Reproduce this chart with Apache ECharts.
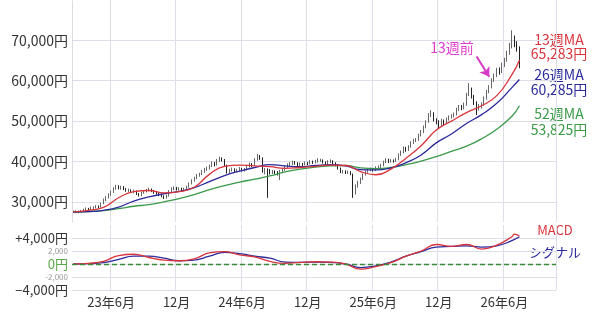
<!DOCTYPE html>
<html>
  <head>
    <meta charset="utf-8" />
    <script src="https://cdn.jsdelivr.net/npm/echarts@6/dist/echarts.min.js"></script>
    <style>
      body {
        margin: 0;
        background: #fff;
      }

      #main {
        width: 600px;
        height: 321px;
      }
    </style>
  </head>
  <body>
    <div id="main"></div>
    <script>
      // weekly candles in 千円: [open, close, low, high]
      const candles = [
        [27.4, 27.5, 27.2, 27.8], [27.5, 27.6, 27.3, 27.9], [27.6, 27.4, 27.2, 27.8], [27.4, 27.8, 27.3, 28.0],
        [27.8, 28.0, 27.6, 28.3], [28.0, 28.3, 27.9, 28.6], [28.3, 28.1, 27.8, 28.5], [28.1, 28.5, 28.0, 28.8],
        [28.5, 28.6, 28.2, 28.9], [28.6, 28.9, 28.4, 29.2], [28.9, 28.7, 28.4, 29.1], [28.7, 29.5, 28.6, 29.8],
        [29.5, 30.5, 29.4, 30.8], [30.5, 31.0, 30.2, 31.4], [31.0, 31.8, 30.8, 32.1], [31.8, 32.5, 31.5, 32.8],
        [32.5, 33.2, 32.2, 33.6], [33.2, 33.8, 33.0, 34.2], [33.8, 33.5, 33.1, 34.1], [33.5, 33.6, 33.0, 34.0],
        [33.6, 33.2, 32.9, 33.9], [33.2, 32.8, 32.5, 33.4], [32.8, 32.9, 32.4, 33.3], [32.9, 32.5, 32.2, 33.1],
        [32.5, 32.6, 32.1, 33.0], [32.6, 32.0, 31.7, 32.8], [32.0, 31.6, 31.3, 32.2], [31.6, 32.2, 31.4, 32.5],
        [32.2, 32.6, 32.0, 32.9], [32.6, 32.9, 32.3, 33.2], [32.9, 33.1, 32.6, 33.5], [33.1, 32.7, 32.4, 33.3],
        [32.7, 32.3, 32.0, 32.9], [32.3, 32.1, 31.8, 32.6], [32.1, 31.7, 31.4, 32.3], [31.7, 31.4, 31.1, 32.0],
        [31.4, 31.0, 30.7, 31.6], [31.0, 31.5, 30.8, 31.8], [31.5, 32.6, 31.3, 32.9], [32.6, 33.2, 32.3, 33.6],
        [33.2, 33.4, 32.9, 33.8], [33.4, 33.1, 32.8, 33.7], [33.1, 33.3, 32.8, 33.6], [33.3, 33.0, 32.6, 33.5],
        [33.0, 33.2, 32.7, 33.5], [33.2, 33.7, 33.0, 34.0], [33.7, 34.5, 33.5, 34.8], [34.5, 35.3, 34.3, 35.6],
        [35.3, 35.8, 35.0, 36.2], [35.8, 36.5, 35.6, 36.9], [36.5, 36.8, 36.2, 37.2], [36.8, 37.5, 36.6, 37.9],
        [37.5, 38.0, 37.2, 38.4], [38.0, 38.3, 37.7, 38.7], [38.3, 38.8, 38.0, 39.2], [38.8, 39.6, 38.6, 40.0],
        [39.6, 39.2, 38.8, 39.9], [39.2, 40.2, 39.0, 40.6], [40.2, 40.7, 39.9, 41.2], [40.7, 40.4, 40.0, 41.0],
        [40.4, 39.0, 38.7, 40.6], [39.0, 37.4, 37.0, 39.2], [37.4, 37.8, 37.0, 38.2], [37.8, 38.1, 37.5, 38.5],
        [38.1, 37.6, 37.3, 38.3], [37.6, 37.9, 37.3, 38.2], [37.9, 38.2, 37.6, 38.6], [38.2, 37.8, 37.5, 38.4],
        [37.8, 38.0, 37.5, 38.4], [38.0, 38.7, 37.8, 39.0], [38.7, 39.3, 38.5, 39.7], [39.3, 39.0, 38.6, 39.6],
        [39.0, 40.5, 38.9, 40.8], [40.5, 41.3, 40.2, 41.9], [41.3, 40.8, 40.4, 41.6], [40.8, 37.6, 37.2, 41.0],
        [37.6, 37.9, 36.8, 38.4], [37.9, 37.8, 31.0, 38.3], [37.8, 37.2, 36.8, 38.1], [37.2, 37.5, 36.9, 37.9],
        [37.5, 37.3, 36.9, 37.8], [37.3, 37.0, 36.5, 37.6], [37.0, 37.6, 35.4, 37.9], [37.6, 37.9, 37.3, 38.3],
        [37.9, 38.6, 37.7, 38.9], [38.6, 39.1, 38.3, 39.5], [39.1, 39.4, 38.8, 39.8], [39.4, 39.8, 39.1, 40.2],
        [39.8, 39.6, 39.2, 40.1], [39.6, 39.0, 38.7, 39.8], [39.0, 39.3, 38.7, 39.7], [39.3, 39.2, 38.8, 39.6],
        [39.2, 39.6, 39.0, 40.0], [39.6, 39.5, 39.1, 39.9], [39.5, 39.9, 39.3, 40.3], [39.9, 39.8, 39.4, 40.2],
        [39.8, 40.0, 39.5, 40.4], [40.0, 40.2, 39.7, 40.8], [40.2, 40.3, 39.9, 40.7], [40.3, 39.8, 39.5, 40.5],
        [39.8, 39.5, 39.2, 40.0], [39.5, 39.9, 39.3, 40.3], [39.9, 40.1, 39.6, 40.5], [40.1, 39.6, 39.3, 40.3],
        [39.6, 39.1, 38.8, 39.8], [39.1, 38.3, 38.0, 39.3], [38.3, 37.4, 37.1, 38.5], [37.4, 37.6, 37.0, 37.9],
        [37.6, 37.2, 36.9, 37.8], [37.2, 37.4, 36.9, 37.7], [37.4, 37.0, 36.6, 37.6], [36.8, 32.5, 31.0, 37.0],
        [32.5, 33.8, 31.8, 34.3], [33.8, 34.7, 33.5, 35.2], [34.7, 35.6, 34.4, 36.0], [35.6, 36.7, 35.4, 37.0],
        [36.7, 37.5, 36.5, 37.8], [37.5, 37.9, 37.2, 38.3], [37.9, 38.1, 37.6, 38.5], [38.1, 37.8, 37.5, 38.4],
        [37.8, 38.5, 37.6, 38.8], [38.5, 38.6, 38.2, 39.0], [38.6, 39.0, 38.4, 39.4], [39.0, 39.8, 38.8, 40.2],
        [39.8, 40.4, 39.6, 40.8], [40.4, 40.0, 39.6, 40.7], [40.0, 40.2, 39.7, 40.6], [40.2, 40.1, 39.7, 40.5],
        [40.1, 40.5, 39.9, 40.9], [40.5, 41.6, 40.3, 42.0], [41.6, 42.3, 41.4, 42.7], [42.3, 43.3, 42.0, 43.7],
        [43.3, 42.8, 42.4, 43.6], [42.8, 43.6, 42.6, 44.0], [43.6, 44.6, 43.4, 45.0], [44.6, 45.2, 44.3, 45.6],
        [45.2, 45.3, 44.8, 45.8], [45.3, 46.5, 45.1, 46.9], [46.5, 47.3, 46.2, 47.8], [47.3, 48.5, 47.0, 48.9],
        [48.5, 49.8, 48.2, 50.2], [49.8, 51.5, 49.6, 52.0], [51.5, 52.0, 51.0, 52.7], [52.0, 50.3, 49.9, 52.2],
        [50.3, 49.8, 49.2, 50.7], [49.8, 49.3, 48.0, 50.2], [49.3, 50.1, 48.8, 50.6], [50.1, 49.6, 49.0, 50.4],
        [49.6, 50.5, 49.3, 50.9], [50.5, 50.9, 50.1, 51.4], [50.9, 51.2, 50.6, 51.7], [51.2, 51.6, 50.9, 52.1],
        [51.6, 52.8, 51.4, 53.3], [52.8, 53.5, 52.5, 54.0], [53.5, 53.2, 52.7, 54.0], [53.2, 54.0, 52.9, 54.6],
        [54.0, 56.5, 53.8, 57.0], [56.5, 57.8, 56.2, 59.4], [57.8, 56.0, 55.6, 58.3], [56.0, 54.5, 54.0, 56.5],
        [54.5, 53.2, 51.5, 54.9], [53.2, 53.6, 52.6, 54.2], [53.6, 54.0, 53.1, 54.6], [54.0, 55.6, 53.8, 56.1],
        [55.6, 57.2, 55.3, 57.7], [57.2, 58.4, 56.9, 58.9], [58.4, 60.1, 58.1, 60.6], [60.1, 61.2, 59.7, 61.8],
        [61.2, 62.6, 60.9, 63.2], [62.6, 62.2, 61.5, 63.3], [62.2, 63.8, 61.9, 64.5], [63.8, 65.0, 63.4, 65.7],
        [65.0, 66.8, 64.7, 67.4], [66.8, 68.5, 66.4, 69.4], [68.5, 70.0, 68.0, 72.5], [70.0, 69.0, 68.3, 71.2],
        [69.0, 68.0, 67.2, 69.8], [68.0, 64.3, 63.1, 68.5]
      ];

      // moving averages, [week index, 千円]
      const ma13 = [
        [0, 27.5], [6, 27.9], [12, 28.6], [18, 31.0], [24, 32.5], [30, 32.8], [36, 32.2], [42, 32.5],
        [48, 33.6], [54, 36.8], [60, 38.8], [66, 39.1], [72, 38.9], [78, 38.7], [84, 38.3], [90, 38.5],
        [96, 38.8], [102, 39.1], [108, 39.0], [114, 37.5], [120, 36.7], [126, 38.1], [132, 40.8], [138, 43.9],
        [144, 47.8], [150, 50.0], [156, 52.1], [162, 53.8], [168, 56.3], [174, 61.5], [177, 65.1]
      ];
      const ma26 = [
        [0, 27.5], [6, 27.6], [12, 27.9], [18, 28.7], [24, 30.2], [30, 31.2], [36, 32.0], [42, 32.6],
        [48, 33.5], [54, 35.0], [60, 36.5], [66, 37.6], [72, 38.5], [78, 39.2], [84, 38.9], [90, 38.7],
        [96, 39.0], [102, 39.2], [108, 38.9], [114, 38.0], [120, 37.9], [126, 38.4], [132, 39.7], [138, 41.6],
        [144, 44.6], [150, 46.8], [156, 49.4], [162, 51.6], [168, 54.4], [174, 58.3], [177, 60.3]
      ];
      const ma52 = [
        [0, 27.4], [6, 27.6], [12, 27.8], [18, 28.3], [24, 28.9], [30, 29.3], [36, 30.0], [42, 30.8],
        [48, 31.8], [54, 33.0], [60, 34.0], [66, 34.9], [72, 35.6], [78, 36.4], [84, 37.4], [90, 38.1],
        [96, 38.6], [102, 38.9], [108, 39.0], [114, 38.4], [120, 38.2], [126, 38.5], [132, 39.2], [138, 40.1],
        [144, 41.2], [150, 42.5], [156, 43.8], [162, 45.6], [168, 48.0], [174, 51.2], [177, 53.8]
      ];

      // MACD and signal, [week index, 千円]
      const macd = [
        [0, 0.0], [6, 0.1], [12, 0.4], [18, 1.3], [24, 1.5], [30, 1.0], [36, 0.6], [42, 0.5],
        [48, 0.8], [54, 1.7], [60, 1.9], [66, 1.4], [72, 1.1], [78, 0.4], [84, 0.1], [90, 0.25],
        [96, 0.35], [102, 0.3], [108, 0.0], [114, -0.8], [120, -0.4], [126, 0.2], [132, 1.2], [138, 2.0],
        [144, 3.0], [150, 2.7], [156, 3.0], [162, 2.3], [168, 2.9], [174, 4.2], [175, 4.6], [177, 4.3]
      ];
      const signal = [
        [0, 0.0], [6, 0.05], [12, 0.2], [18, 0.7], [24, 1.2], [30, 1.2], [36, 0.9], [42, 0.5],
        [48, 0.6], [54, 1.2], [60, 1.8], [66, 1.6], [72, 1.2], [78, 0.9], [84, 0.3], [90, 0.25],
        [96, 0.3], [102, 0.25], [108, 0.0], [114, -0.55], [120, -0.3], [126, 0.3], [132, 1.2], [138, 1.9],
        [144, 2.6], [150, 2.7], [156, 2.8], [162, 2.6], [168, 2.8], [174, 3.6], [177, 4.2]
      ];

      // week starts (Mondays); the axis runs on past the last candle
      const firstWeek = Date.UTC(2023, 1, 20);
      const weekCount = 192;
      const weeks = [];
      for (let i = 0; i < weekCount; i++) {
        weeks.push(new Date(firstWeek + i * 7 * 86400000).toISOString().slice(0, 10));
      }

      const isHalfYear = (value) => {
        const m = value.slice(5, 7);
        return (m === '06' || m === '12') && +value.slice(8, 10) <= 7;
      };
      const halfYearLabel = (value) =>
        value.slice(5, 7) === '06' ? value.slice(2, 4) + '年6月' : '12月';

      const yen = (v) => String(Math.round(Math.abs(v) * 1000)).replace(/\B(?=(\d{3})+(?!\d))/g, ',');

      const font = '"Noto Sans CJK JP", "Noto Sans", sans-serif';
      const gridColor = '#dedee8';
      const red = '#d9343c';
      const navy = '#2a2a9c';
      const green = '#3a9a48';

      const chart = echarts.init(document.getElementById('main'));

      chart.setOption({
        animation: false,
        backgroundColor: '#fff',
        textStyle: { fontFamily: font },
        grid: [
          { left: 72, right: 44, top: 0, height: 222, outerBoundsMode: 'none' },
          { left: 72, right: 44, top: 225, height: 65, outerBoundsMode: 'none' }
        ],
        xAxis: [
          {
            type: 'category',
            gridIndex: 0,
            data: weeks,
            axisLine: { show: false },
            axisTick: { show: false },
            axisLabel: { show: false },
            splitLine: {
              show: true,
              interval: (i, v) => isHalfYear(v),
              lineStyle: { color: gridColor }
            }
          },
          {
            type: 'category',
            gridIndex: 1,
            data: weeks,
            axisLine: { show: false },
            axisTick: { show: false },
            axisLabel: {
              interval: (i, v) => isHalfYear(v),
              formatter: halfYearLabel,
              color: '#333',
              fontSize: 13,
              margin: 6
            },
            splitLine: {
              show: true,
              interval: (i, v) => isHalfYear(v),
              lineStyle: { color: gridColor }
            }
          }
        ],
        yAxis: [
          {
            type: 'value',
            gridIndex: 0,
            min: 25,
            max: 80,
            interval: 5,
            axisLine: { show: true, lineStyle: { color: '#d4d4dc', type: 'dotted' } },
            axisTick: { show: false },
            axisLabel: {
              color: '#333',
              fontSize: 14,
              margin: 4,
              formatter: (v) => (v % 10 === 0 && v >= 30 && v <= 70 ? yen(v) + '円' : '')
            },
            splitLine: {
              show: true,
              showMaxLine: false,
              lineStyle: { color: ['rgba(0,0,0,0)', gridColor] }
            }
          },
          {
            type: 'value',
            gridIndex: 1,
            min: -4,
            max: 6,
            interval: 2,
            axisLine: { show: false },
            axisTick: { show: false },
            axisLabel: {
              margin: 4,
              formatter: (v) => {
                if (v === 4) return '{b|+' + yen(v) + '円}';
                if (v === -4) return '{b|−' + yen(v) + '円}';
                if (v === 0) return '{z|0円}';
                if (v === 2) return '{s|' + yen(v) + '}';
                if (v === -2) return '{s|-' + yen(v) + '}';
                return '';
              },
              rich: {
                b: { fontSize: 13, color: '#333', fontFamily: font },
                z: { fontSize: 13, color: '#5aa84a', fontFamily: font },
                s: { fontSize: 8, color: '#999', fontFamily: font }
              }
            },
            splitLine: {
              show: true,
              showMaxLine: false,
              lineStyle: { color: gridColor }
            }
          }
        ],
        series: [
          {
            name: '週足',
            type: 'candlestick',
            xAxisIndex: 0,
            yAxisIndex: 0,
            data: candles.map(([o, c, l, h]) => [o, c, l, h]),
            barMaxWidth: 3,
            itemStyle: {
              color: '#fff',
              color0: '#222',
              borderColor: '#666',
              borderColor0: '#222',
              borderWidth: 1
            },
            markLine: {
              silent: true,
              symbol: ['none', 'arrow'],
              symbolSize: 9,
              label: { show: false },
              lineStyle: { color: '#d838c8', width: 2, type: 'solid' },
              data: [[{ coord: [weeks[160], 66] }, { coord: [weeks[165], 61] }]]
            }
          },
          {
            name: '52週MA',
            type: 'line',
            xAxisIndex: 0,
            yAxisIndex: 0,
            data: ma52,
            smooth: true,
            showSymbol: false,
            lineStyle: { color: green, width: 1.3 },
            z: 3
          },
          {
            name: '26週MA',
            type: 'line',
            xAxisIndex: 0,
            yAxisIndex: 0,
            data: ma26,
            smooth: true,
            showSymbol: false,
            lineStyle: { color: navy, width: 1.3 },
            z: 3
          },
          {
            name: '13週MA',
            type: 'line',
            xAxisIndex: 0,
            yAxisIndex: 0,
            data: ma13,
            smooth: true,
            showSymbol: false,
            lineStyle: { color: red, width: 1.3 },
            z: 3
          },
          {
            name: 'シグナル',
            type: 'line',
            xAxisIndex: 1,
            yAxisIndex: 1,
            data: signal,
            smooth: true,
            showSymbol: false,
            lineStyle: { color: navy, width: 1.3 },
            markLine: {
              silent: true,
              symbol: 'none',
              label: { show: false },
              lineStyle: { color: '#3a8a3a', width: 1.3, type: [5, 3] },
              data: [{ yAxis: 0 }]
            }
          },
          {
            name: 'MACD',
            type: 'line',
            xAxisIndex: 1,
            yAxisIndex: 1,
            data: macd,
            smooth: true,
            showSymbol: false,
            lineStyle: { color: red, width: 1.3 }
          }
        ],
        graphic: [
          { type: 'text', x: 559, y: 40, style: { text: '13週MA', fill: red, font: '14px ' + font, textAlign: 'center', textVerticalAlign: 'middle' } },
          { type: 'text', x: 559, y: 54, style: { text: '65,283円', fill: red, font: '14px ' + font, textAlign: 'center', textVerticalAlign: 'middle' } },
          { type: 'text', x: 559, y: 75, style: { text: '26週MA', fill: navy, font: '14px ' + font, textAlign: 'center', textVerticalAlign: 'middle' } },
          { type: 'text', x: 559, y: 90, style: { text: '60,285円', fill: navy, font: '14px ' + font, textAlign: 'center', textVerticalAlign: 'middle' } },
          { type: 'text', x: 559, y: 114, style: { text: '52週MA', fill: green, font: '14px ' + font, textAlign: 'center', textVerticalAlign: 'middle' } },
          { type: 'text', x: 559, y: 130, style: { text: '53,825円', fill: green, font: '14px ' + font, textAlign: 'center', textVerticalAlign: 'middle' } },
          { type: 'text', x: 452, y: 48, style: { text: '13週前', fill: '#e03ccc', font: '14px ' + font, textAlign: 'center', textVerticalAlign: 'middle' } },
          { type: 'text', x: 555, y: 230, style: { text: 'MACD', fill: red, font: '13px ' + font, textAlign: 'center', textVerticalAlign: 'middle' } },
          { type: 'text', x: 555, y: 252, style: { text: 'シグナル', fill: navy, font: '13px ' + font, textAlign: 'center', textVerticalAlign: 'middle' } }
        ]
      });
    </script>
  </body>
</html>
